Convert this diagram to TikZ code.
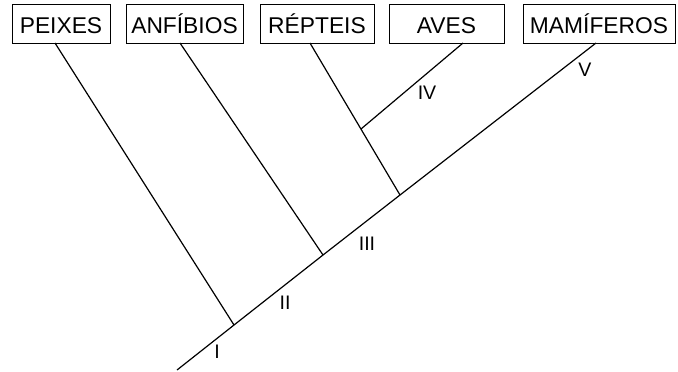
\documentclass[tikz,border=0pt]{standalone}
\usepackage{fontspec}
\setmainfont{Liberation Sans}
\usetikzlibrary{calc}
\tikzset{
    grupo/.style = {draw, line width=0.5pt, inner sep=0pt, minimum height=19.5pt,
                    text height=10pt, text depth=0.5pt,
                    font=\fontsize{11.4}{13}\selectfont},
    ramo/.style = {line width=0.6pt},
    marca/.style = {font=\fontsize{9.8}{12}\selectfont, inner sep=0pt}
}
\begin{document}
\begin{tikzpicture}[x = 0.5pt, y = -0.5pt]
    \useasboundingbox (0, 0) rectangle (678, 371);
    \node[grupo, minimum width=49pt] (peixes) at (61, 23.5) {PEIXES};
    \node[grupo, minimum width=58.5pt] (anfibios) at (184.5, 23.5) {ANFÍBIOS};
    \node[grupo, minimum width=57pt] (repteis) at (317, 23.5) {RÉPTEIS};
    \node[grupo, minimum width=57.5pt] (aves) at (446.5, 23.5) {AVES};
    \node[grupo, minimum width=76pt] (mamiferos) at (599, 23.5) {MAMÍFEROS};
    \coordinate (raiz) at (177, 370);
    \coordinate (nI) at (234, 325);
    \coordinate (nII) at (323, 255);
    \coordinate (nIII) at (400, 195);
    \coordinate (pPeixes) at (55, 43);
    \coordinate (pAnfibios) at (180, 43);
    \coordinate (pRepteis) at (310, 43);
    \coordinate (pAves) at (463, 43);
    \coordinate (pMamiferos) at (596, 43);
    \coordinate (nIV) at ($(nIII)!0.434!(pRepteis)$);
    \draw[ramo] (raiz) -- (nI) -- (nII) -- (nIII) -- (pMamiferos);
    \draw[ramo] (nI) -- (pPeixes);
    \draw[ramo] (nII) -- (pAnfibios);
    \draw[ramo] (nIII) -- (pRepteis);
    \draw[ramo] (nIV) -- (pAves);
    \node[marca] (I) at (217, 352) {I};
    \node[marca] (II) at (285, 303) {II};
    \node[marca] (III) at (367, 244) {III};
    \node[marca] (IV) at (427, 93) {IV};
    \node[marca] (V) at (585, 70) {V};
\end{tikzpicture}
\end{document}
